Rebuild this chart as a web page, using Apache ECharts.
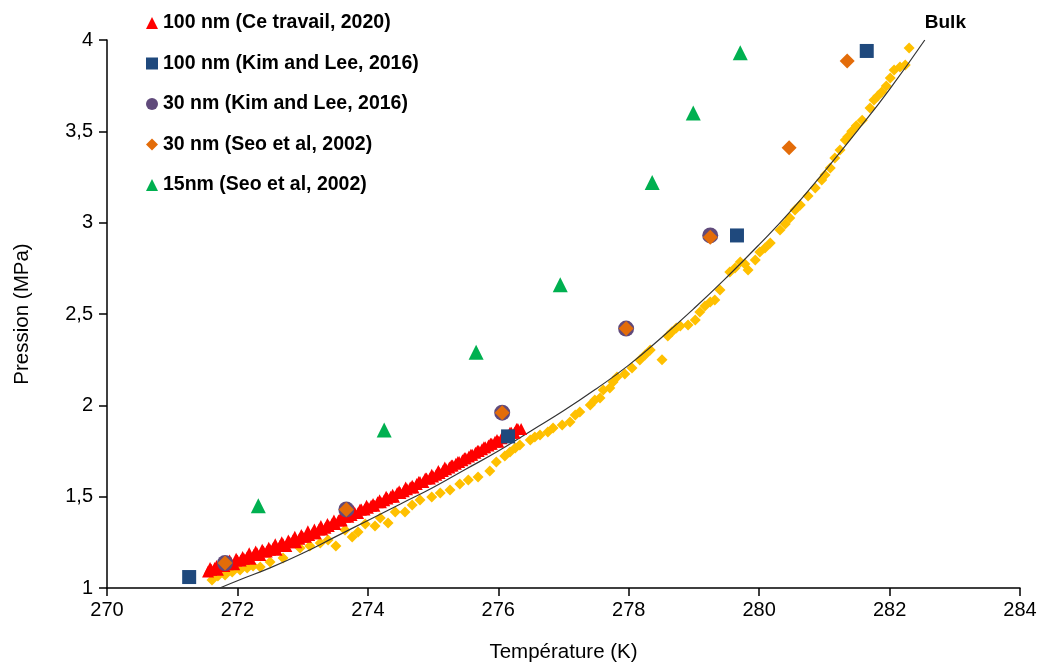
<!DOCTYPE html>
<html><head><meta charset="utf-8">
<script src="https://cdn.jsdelivr.net/npm/echarts@6/dist/echarts.min.js"></script>
<style>html,body{margin:0;padding:0;background:#fff}#c{width:1046px;height:665px}</style>
</head><body><div id="c"></div>
<script>
// Tick settings
const xTicks = {min: 270, max: 284, interval: 2};
const yTicks = {min: 1, max: 4, interval: 0.5};

// 100 nm (Ce travail, 2020)
const redT = [271.55,271.60,271.65,271.70,271.75,271.80,271.85,271.90,271.95,272.00,272.05,272.10,272.15,272.20,272.25,272.30,272.35,272.40,272.45,272.50,272.55,272.60,272.65,272.70,272.75,272.80,272.85,272.90,272.95,273.00,273.05,273.10,273.15,273.20,273.25,273.30,273.35,273.40,273.45,273.50,273.55,273.60,273.65,273.70,273.75,273.80,273.85,273.90,273.95,274.00,274.05,274.10,274.15,274.20,274.25,274.30,274.35,274.40,274.45,274.50,274.55,274.60,274.65,274.70,274.75,274.80,274.85,274.90,274.95,275.00,275.05,275.10,275.15,275.20,275.25,275.30,275.35,275.40,275.45,275.50,275.55,275.60,275.65,275.70,275.75,275.80,275.85,275.90,275.95,276.00,276.05,276.10,276.15,276.20,276.25,276.30,276.35];
const redP = [1.09,1.10,1.11,1.10,1.12,1.12,1.13,1.14,1.13,1.15,1.15,1.16,1.17,1.16,1.18,1.19,1.18,1.20,1.20,1.21,1.22,1.21,1.23,1.24,1.23,1.25,1.26,1.25,1.27,1.28,1.28,1.29,1.30,1.30,1.32,1.32,1.33,1.34,1.35,1.35,1.37,1.37,1.39,1.39,1.40,1.41,1.41,1.43,1.43,1.44,1.45,1.45,1.47,1.47,1.48,1.49,1.50,1.50,1.52,1.52,1.53,1.54,1.55,1.55,1.57,1.58,1.58,1.60,1.60,1.61,1.62,1.63,1.64,1.65,1.66,1.67,1.68,1.69,1.70,1.71,1.72,1.73,1.74,1.75,1.76,1.77,1.78,1.79,1.80,1.80,1.82,1.83,1.83,1.85,1.85,1.87,1.87];
// second, interleaved run of the same measurements
const redT2 = [271.58,271.68,271.78,271.88,271.98,272.08,272.18,272.28,272.38,272.48,272.58,272.68,272.78,272.88,272.98,273.08,273.18,273.28,273.38,273.48,273.58,273.68,273.78,273.88,273.98,274.08,274.18,274.28,274.38,274.48,274.58,274.68,274.78,274.88,274.98,275.08,275.18,275.28,275.38,275.48,275.58,275.68,275.78,275.88,275.98,276.08,276.18,276.28];
const redP2 = [1.11,1.12,1.14,1.15,1.16,1.17,1.19,1.20,1.21,1.22,1.24,1.25,1.26,1.28,1.29,1.31,1.32,1.34,1.35,1.37,1.38,1.40,1.42,1.43,1.45,1.46,1.48,1.50,1.51,1.53,1.55,1.56,1.58,1.60,1.62,1.64,1.66,1.67,1.69,1.71,1.73,1.75,1.77,1.79,1.81,1.83,1.85,1.87];

// 100 nm (Kim and Lee, 2016)
const kim100T = [271.26, 276.15, 279.66, 281.65];
const kim100P = [1.06, 1.83, 2.93, 3.94];

// 30 nm (Kim and Lee, 2016)
const kim30T = [271.81, 273.67, 276.06, 277.96, 279.25];
const kim30P = [1.137, 1.43, 1.96, 2.42, 2.93];

// 30 nm (Seo et al, 2002)
const seo30T = [271.81, 273.67, 276.06, 277.96, 279.25, 280.46, 281.35];
const seo30P = [1.137, 1.43, 1.96, 2.42, 2.92, 3.41, 3.885];

// 15nm (Seo et al, 2002)
const seo15T = [272.32, 274.25, 275.66, 276.95, 278.36, 278.99, 279.71];
const seo15P = [1.45, 1.865, 2.29, 2.66, 3.22, 3.60, 3.93];

// Bulk data points
const bulkT = [271.61,271.70,271.81,271.92,272.04,272.15,272.24,272.35,272.50,272.70,272.96,273.11,273.27,273.39,273.51,273.65,273.76,273.85,273.96,274.11,274.19,274.31,274.42,274.57,274.68,274.80,274.98,275.11,275.26,275.41,275.54,275.69,275.87,275.97,276.10,276.18,276.26,276.33,276.49,276.56,276.64,276.76,276.84,276.98,277.10,277.18,277.25,277.41,277.48,277.56,277.61,277.71,277.76,277.82,277.94,278.05,278.17,278.25,278.33,278.51,278.60,278.66,278.73,278.79,278.91,279.02,279.09,279.17,279.25,279.32,279.40,279.55,279.63,279.71,279.78,279.83,279.94,280.01,280.09,280.17,280.32,280.40,280.47,280.55,280.63,280.75,280.86,280.96,281.01,281.09,281.16,281.24,281.32,281.36,281.42,281.49,281.58,281.70,281.76,281.82,281.88,281.95,282.01,282.07,282.16,282.24,282.30];
const bulkP = [1.044,1.066,1.071,1.088,1.099,1.109,1.120,1.115,1.142,1.164,1.219,1.230,1.246,1.263,1.230,1.318,1.279,1.307,1.350,1.339,1.383,1.356,1.416,1.416,1.454,1.482,1.498,1.520,1.536,1.569,1.591,1.608,1.641,1.690,1.723,1.745,1.766,1.783,1.810,1.827,1.838,1.854,1.876,1.892,1.909,1.947,1.963,2.002,2.029,2.040,2.084,2.095,2.128,2.155,2.172,2.204,2.248,2.276,2.303,2.250,2.380,2.401,2.423,2.434,2.440,2.467,2.511,2.544,2.566,2.577,2.631,2.730,2.752,2.785,2.774,2.741,2.796,2.839,2.861,2.889,2.960,2.993,3.026,3.069,3.097,3.146,3.190,3.234,3.261,3.299,3.354,3.398,3.453,3.470,3.500,3.530,3.560,3.628,3.672,3.693,3.715,3.748,3.792,3.836,3.852,3.863,3.956];

// Bulk equilibrium curve
const curveT = [271.73,272.0,272.5,273.0,273.5,274.0,274.5,275.0,275.5,276.0,276.5,277.0,277.5,278.0,278.5,279.0,279.5,280.0,280.5,281.0,281.5,282.0,282.54];
const curveP = [1.00,1.04,1.11,1.19,1.28,1.37,1.46,1.55,1.65,1.75,1.86,1.97,2.09,2.22,2.37,2.53,2.70,2.88,3.07,3.28,3.50,3.73,4.00];

const names = ['100 nm (Ce travail, 2020)','100 nm (Kim and Lee, 2016)','30 nm (Kim and Lee, 2016)','30 nm (Seo et al, 2002)','15nm (Seo et al, 2002)'];

const zip = (a, b) => a.map((v, i) => [v, b[i]]);
const FONT = 'Liberation Sans';

const chart = echarts.init(document.getElementById('c'), null, {renderer: 'canvas'});

chart.setOption({
  animation: false,
  backgroundColor: '#fff',
  grid: {left: 107, right: 26, top: 40, bottom: 77, containLabel: false, outerBoundsMode: 'none'},
  legend: {
    orient: 'vertical', left: 141, top: 8, itemGap: 20.5, itemWidth: 12, itemHeight: 12,
    textStyle: {fontFamily: FONT, fontWeight: 'bold', fontSize: 19.5, color: '#000'},
    data: names
  },
  xAxis: {
    type: 'value', min: xTicks.min, max: xTicks.max, interval: xTicks.interval,
    name: 'Température (K)', nameLocation: 'middle', nameGap: 54,
    nameTextStyle: {fontFamily: FONT, fontSize: 20.5, color: '#000'},
    axisLine: {lineStyle: {color: '#000', width: 1.5}},
    axisTick: {show: true, inside: false, length: 8, lineStyle: {color: '#000', width: 1.5}},
    axisLabel: {fontFamily: FONT, fontSize: 20, color: '#000', margin: 12},
    splitLine: {show: false}
  },
  yAxis: {
    type: 'value', min: yTicks.min, max: yTicks.max, interval: yTicks.interval,
    name: 'Pression (MPa)', nameLocation: 'middle', nameGap: 74,
    nameTextStyle: {fontFamily: FONT, fontSize: 20.5, color: '#000'},
    axisLine: {show: true, lineStyle: {color: '#000', width: 1.5}},
    axisTick: {show: true, inside: false, length: 8, lineStyle: {color: '#000', width: 1.5}},
    axisLabel: {fontFamily: FONT, fontSize: 20, color: '#000', margin: 14,
      formatter: v => String(v).replace('.', ',')},
    splitLine: {show: false}
  },
  series: [
    {type: 'scatter', name: 'Bulk data', data: zip(bulkT, bulkP), symbol: 'diamond', symbolSize: 11,
      itemStyle: {color: '#FFC000', opacity: 1}, z: 1},
    {type: 'line', name: 'Bulk', data: zip(curveT, curveP), smooth: true, showSymbol: false, symbol: 'none',
      lineStyle: {color: '#333', width: 1.2}, z: 2,
      endLabel: {show: true, formatter: 'Bulk', offset: [-8, -17], fontFamily: FONT, fontWeight: 'bold', fontSize: 19, color: '#000'}},
    {type: 'scatter', name: names[0], data: zip(redT, redP).concat(zip(redT2, redP2)), symbol: 'triangle', symbolSize: 12,
      itemStyle: {color: '#FF0000', opacity: 1}, z: 3},
    {type: 'scatter', name: names[1], data: zip(kim100T, kim100P), symbol: 'rect', symbolSize: 14,
      itemStyle: {color: '#1F497D', opacity: 1}, z: 4},
    {type: 'scatter', name: names[2], data: zip(kim30T, kim30P), symbol: 'circle', symbolSize: 16,
      itemStyle: {color: '#604A7B', opacity: 1}, z: 5},
    {type: 'scatter', name: names[3], data: zip(seo30T, seo30P), symbol: 'diamond', symbolSize: 15,
      itemStyle: {color: '#E36C09', opacity: 1}, z: 6},
    {type: 'scatter', name: names[4], data: zip(seo15T, seo15P), symbol: 'triangle', symbolSize: 15,
      itemStyle: {color: '#00B050', opacity: 1}, z: 7}
  ]
});
</script>
</body></html>
